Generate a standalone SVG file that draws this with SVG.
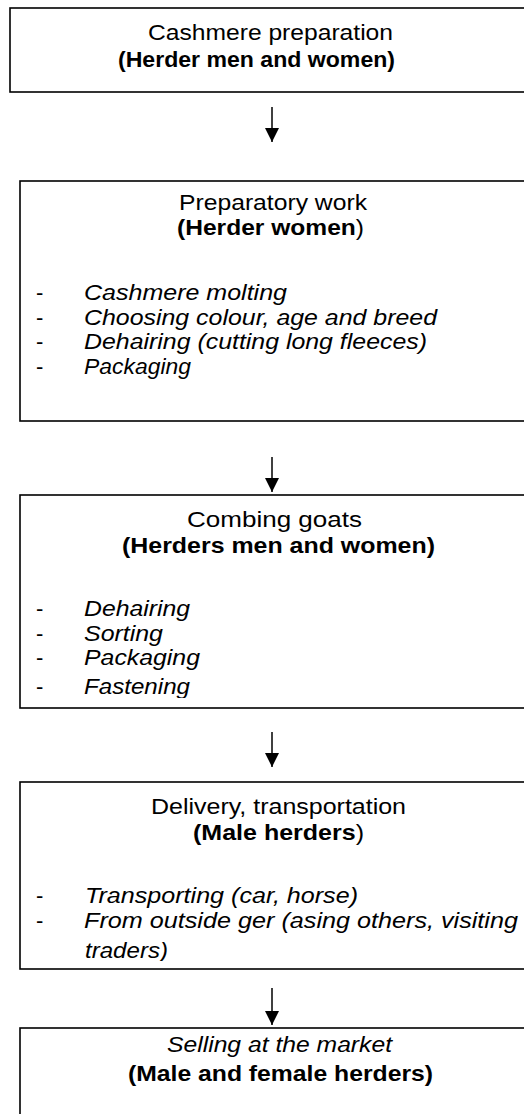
<svg xmlns="http://www.w3.org/2000/svg" width="524" height="1114" viewBox="0 0 524 1114">
<style>
.box{fill:#fff;stroke:#000;stroke-width:1.6}
.t{font-family:"Liberation Sans",Arial,sans-serif;font-size:22px;fill:#000}
.b{font-weight:bold}
.n{font-weight:normal}
.i{font-style:italic}
.conn line{stroke:#000;stroke-width:1.5}
</style>
<defs>
<marker id="ah" markerUnits="userSpaceOnUse" markerWidth="14" markerHeight="14" refX="14" refY="7" orient="auto">
<path d="M0,0 L14,7 L0,14 z" fill="#000"/>
</marker>
<clipPath id="c3"><rect x="20" y="495" width="510" height="203"/></clipPath>
<clipPath id="c4"><rect x="20" y="782" width="510" height="179"/></clipPath>
</defs>
<rect width="524" height="1114" fill="#fff"/>
<g id="connectors" class="conn">
<line x1="272" y1="107" x2="272" y2="142" marker-end="url(#ah)"/>
<line x1="272" y1="457" x2="272" y2="492" marker-end="url(#ah)"/>
<line x1="272" y1="732" x2="272" y2="767" marker-end="url(#ah)"/>
<line x1="272" y1="988" x2="272" y2="1025" marker-end="url(#ah)"/>
</g>
<g id="node1">
<rect class="box" x="10" y="8" width="530" height="84"/>
<text class="t" x="148" y="40" textLength="245" lengthAdjust="spacingAndGlyphs">Cashmere preparation</text>
<text class="t b" x="118" y="67" textLength="277" lengthAdjust="spacingAndGlyphs">(Herder men and women)</text>
</g>
<g id="node2">
<rect class="box" x="20" y="181" width="520" height="240"/>
<text class="t" x="179" y="210" textLength="188" lengthAdjust="spacingAndGlyphs">Preparatory work</text>
<text class="t b" x="177" y="235" textLength="187" lengthAdjust="spacingAndGlyphs">(Herder women<tspan class="n">)</tspan></text>
<text class="t" x="36" y="300">-</text>
<text class="t" x="36" y="324.5">-</text>
<text class="t" x="36" y="349">-</text>
<text class="t" x="36" y="373.5">-</text>
<text class="t i" x="84" y="300" textLength="203" lengthAdjust="spacingAndGlyphs">Cashmere molting</text>
<text class="t i" x="84" y="324.5" textLength="353" lengthAdjust="spacingAndGlyphs">Choosing colour, age and breed</text>
<text class="t i" x="84" y="349" textLength="343" lengthAdjust="spacingAndGlyphs">Dehairing (cutting long fleeces)</text>
<text class="t i" x="84" y="373.5" textLength="107" lengthAdjust="spacingAndGlyphs">Packaging</text>
</g>
<g id="node3">
<rect class="box" x="20" y="495" width="520" height="213"/>
<text class="t" x="187" y="527" textLength="175" lengthAdjust="spacingAndGlyphs">Combing goats</text>
<text class="t b" x="122" y="553" textLength="313" lengthAdjust="spacingAndGlyphs">(Herders men and women)</text>
<g clip-path="url(#c3)">
<text class="t" x="36" y="616">-</text>
<text class="t" x="36" y="640.5">-</text>
<text class="t" x="36" y="665">-</text>
<text class="t" x="36" y="694">-</text>
<text class="t i" x="84" y="616" textLength="106" lengthAdjust="spacingAndGlyphs">Dehairing</text>
<text class="t i" x="84" y="640.5" textLength="79" lengthAdjust="spacingAndGlyphs">Sorting</text>
<text class="t i" x="84" y="665" textLength="116" lengthAdjust="spacingAndGlyphs">Packaging</text>
<text class="t i" x="84" y="694" textLength="106" lengthAdjust="spacingAndGlyphs">Fastening</text>
</g>
</g>
<g id="node4">
<rect class="box" x="20" y="782" width="520" height="187"/>
<text class="t" x="151" y="814" textLength="255" lengthAdjust="spacingAndGlyphs">Delivery, transportation</text>
<text class="t b" x="193" y="839.5" textLength="171" lengthAdjust="spacingAndGlyphs">(Male herders<tspan class="n">)</tspan></text>
<g clip-path="url(#c4)">
<text class="t" x="36" y="902.5">-</text>
<text class="t" x="36" y="927.5">-</text>
<text class="t i" x="85" y="902.5" textLength="273" lengthAdjust="spacingAndGlyphs">Transporting (car, horse)</text>
<text class="t i" x="84" y="927.5" textLength="434" lengthAdjust="spacingAndGlyphs">From outside ger (asing others, visiting</text>
<text class="t i" x="85" y="958" textLength="83" lengthAdjust="spacingAndGlyphs">traders)</text>
</g>
</g>
<g id="node5">
<rect class="box" x="20" y="1028" width="520" height="100"/>
<text class="t i" x="167" y="1052" textLength="225" lengthAdjust="spacingAndGlyphs">Selling at the market</text>
<text class="t b" x="128" y="1081" textLength="305" lengthAdjust="spacingAndGlyphs">(Male and female herders)</text>
</g>
</svg>
